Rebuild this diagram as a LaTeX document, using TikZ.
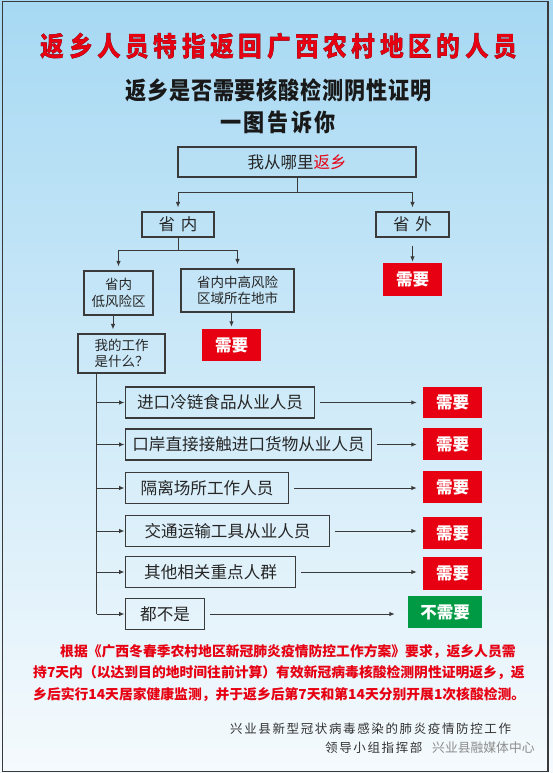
\documentclass[tikz,border=0pt]{standalone}
\usepackage{fontspec}
\usepackage{graphicx}
\usepackage{pdfrender}
\newfontfamily\cjk{Noto Sans CJK SC}
\usetikzlibrary{positioning,arrows.meta,calc}
\definecolor{bgtop}{HTML}{A7D9F3}
\definecolor{bgmid}{HTML}{CAE8F7}
\definecolor{bgbot}{HTML}{F5FAFD}
\definecolor{linegray}{HTML}{3A3A3A}
\definecolor{needred}{HTML}{E60012}
\definecolor{okgreen}{HTML}{009A44}
\newcommand\narrow[1]{\scalebox{0.88}[1]{#1}}
\tikzset{>={Latex[length=5.5pt,width=4.5pt]}}
\tikzset{
  flowbox/.style = {draw=linegray, line width=1.1pt, inner sep=0pt, text=black!85,
                    font=\cjk\fontsize{16.5}{19}\selectfont},
  smallbox/.style = {flowbox, align=center, font=\cjk\fontsize{13.5}{16.5}\selectfont},
  jobbox/.style = {flowbox, anchor=west, minimum height=31pt,
                   font=\cjk\fontsize{16.6}{19}\selectfont},
  needbox/.style = {fill=needred, inner sep=0pt, minimum width=59pt, minimum height=32pt,
                    text=white, font=\cjk\bfseries\fontsize{16.5}{19}\selectfont},
  titletext/.style = {inner sep=0pt, font=\cjk\bfseries\fontsize{27}{30}\selectfont\addfontfeature{LetterSpace=19}},
  subtext/.style = {inner sep=0pt, text=black!90, font=\cjk\bfseries\fontsize{24}{28}\selectfont\addfontfeature{LetterSpace=4}},
  note/.style = {anchor=west, inner sep=0pt, text=needred,
                 font=\cjk\bfseries\fontsize{13.8}{16}\selectfont},
  sign/.style = {anchor=west, inner sep=0pt, text=black!80,
                 font=\cjk\fontsize{12.5}{15}\selectfont\addfontfeature{LetterSpace=13}},
  conn/.style = {draw=linegray, line width=1pt},
  arr/.style = {conn, ->, shorten >=4pt}
}

\begin{document}
\begin{tikzpicture}[x=1pt,y=-1pt]
  % background and frame
  \shade[top color=bgtop, middle color=bgmid, bottom color=bgbot] (0,0) rectangle (553,773);
  \draw[linegray, line width=1.5pt] (2.3,1.5) rectangle (548,771.5);
  \useasboundingbox (0,0) rectangle (553,773);

  % headings
  \node[titletext] (halo) at (279,46)
    {\narrow{\textpdfrender{TextRenderingMode=Stroke,LineWidth=4,LineJoinStyle=Round,StrokeColor=white}{返乡人员特指返回广西农村地区的人员}}};
  \node[titletext, text=needred] (title) at (279,46)
    {\narrow{\textpdfrender{TextRenderingMode=FillStroke,LineWidth=0.7,LineJoinStyle=Round,StrokeColor=needred}{返乡人员特指返回广西农村地区的人员}}};
  \node[subtext] (question) at (278.5,90)
    {\narrow{\textpdfrender{TextRenderingMode=FillStroke,LineWidth=0.5,StrokeColor=black!90}{返乡是否需要核酸检测阴性证明}}};
  \node[subtext, font=\cjk\bfseries\fontsize{24}{28}\selectfont\addfontfeature{LetterSpace=12}] (oneimg) at (278,122)
    {\narrow{\textpdfrender{TextRenderingMode=FillStroke,LineWidth=0.5,StrokeColor=black!90}{一图告诉你}}};

  % where from
  \node[flowbox, minimum width=238pt, minimum height=30pt] (from) at (297,162) {我从哪里\textcolor{needred}{返乡}};
  \node[flowbox, minimum width=72pt, minimum height=25pt] (inprov) at (178,224.5) {省\hspace{6pt}内};
  \node[flowbox, minimum width=73pt, minimum height=25pt] (outprov) at (412.5,224.5) {省\hspace{6pt}外};
  \node[needbox, minimum height=33pt] (needout) at (412.5,279.5) {需要};
  \node[smallbox, minimum width=69pt, minimum height=44pt] (lowrisk) at (118.5,293) {省内\\低风险区};
  \node[smallbox, minimum width=113pt, minimum height=43pt] (highrisk) at (237.5,290.5) {省内中高风险\\区域所在地市};
  \node[needbox] (needhigh) at (231.5,345) {需要};
  \node[smallbox, minimum width=87pt, minimum height=39pt] (myjob) at (121.5,353.5) {我的工作\\是什么？};

  \draw[conn] (from.south) -- ++(0,15) coordinate (split);
  \draw[arr] (split) -| (inprov.north);
  \draw[arr] (split) -| (outprov.north);
  \draw[conn] (inprov.south) -- ++(0,13) coordinate (splitin);
  \draw[arr] (splitin) -| (lowrisk.north);
  \draw[arr] (splitin) -| (highrisk.north);
  \draw[arr, shorten <=8pt, shorten >=1pt] (outprov) -- (needout);
  \draw[arr, shorten >=2pt] (highrisk.south -| needhigh.north) -- (needhigh.north);
  \draw[arr] ([xshift=-5.5pt]lowrisk.south) -- ([xshift=-5.5pt]lowrisk.south |- myjob.north);

  % jobs
  \node[jobbox, minimum width=189pt] (job1) at (125,402.5) {进口冷链食品从业人员};
  \node[jobbox, minimum width=246pt] (job2) at (125,444.5) {口岸直接接触进口货物从业人员};
  \node[jobbox, minimum width=163pt] (job3) at (125,488) {隔离场所工作人员};
  \node[jobbox, minimum width=204pt] (job4) at (125,531) {交通运输工具从业人员};
  \node[jobbox, minimum width=170pt] (job5) at (125,572) {其他相关重点人群};
  \node[jobbox, minimum width=79pt] (job6) at (125,614) {都不是};

  \node[needbox, minimum height=31pt] (res1) at (452.5,402.5) {需要};
  \node[needbox] (res2) at (452.5,444) {需要};
  \node[needbox] (res3) at (452.5,487) {需要};
  \node[needbox] (res4) at (452.5,533) {需要};
  \node[needbox, minimum height=33pt] (res5) at (452.5,573.5) {需要};
  \node[needbox, fill=okgreen, minimum width=74pt] (res6) at (445,612) {不需要};

  \coordinate (trunk) at ([xshift=19.5pt]myjob.south west);
  \draw[conn] (trunk) -- (trunk |- job6.west);
  \foreach \i in {1,...,6} {
    \pgfmathsetmacro{\gap}{\i==6 ? 13 : 6}
    \draw[arr, shorten >=0.5pt] (trunk |- job\i.west) -- (job\i.west);
    \draw[arr, shorten <=5pt, shorten >=\gap pt] (job\i.east) -- (job\i.east -| res\i.west);
  }

  % notes
  \node[note] (note1) at (60,652) {根据《广西冬春季农村地区新冠肺炎疫情防控工作方案》要求，返乡人员需};
  \node[note] (note2) at (33,673) {持7天内（以达到目的地时间往前计算）有效新冠病毒核酸检测阴性证明返乡，返};
  \node[note] (note3) at (33,695) {乡后实行14天居家健康监测，并于返乡后第7天和第14天分别开展1次核酸检测。};

  \node[sign] (sign1) at (230,729) {兴业县新型冠状病毒感染的肺炎疫情防控工作};
  \node[sign] (sign2) at (325,748) {领导小组指挥部};
  \node[anchor=west, inner sep=0pt, text=black!45, font=\cjk\fontsize{12.8}{15}\selectfont] (mark) at (432,748) {兴业县融媒体中心};
\end{tikzpicture}
\end{document}
